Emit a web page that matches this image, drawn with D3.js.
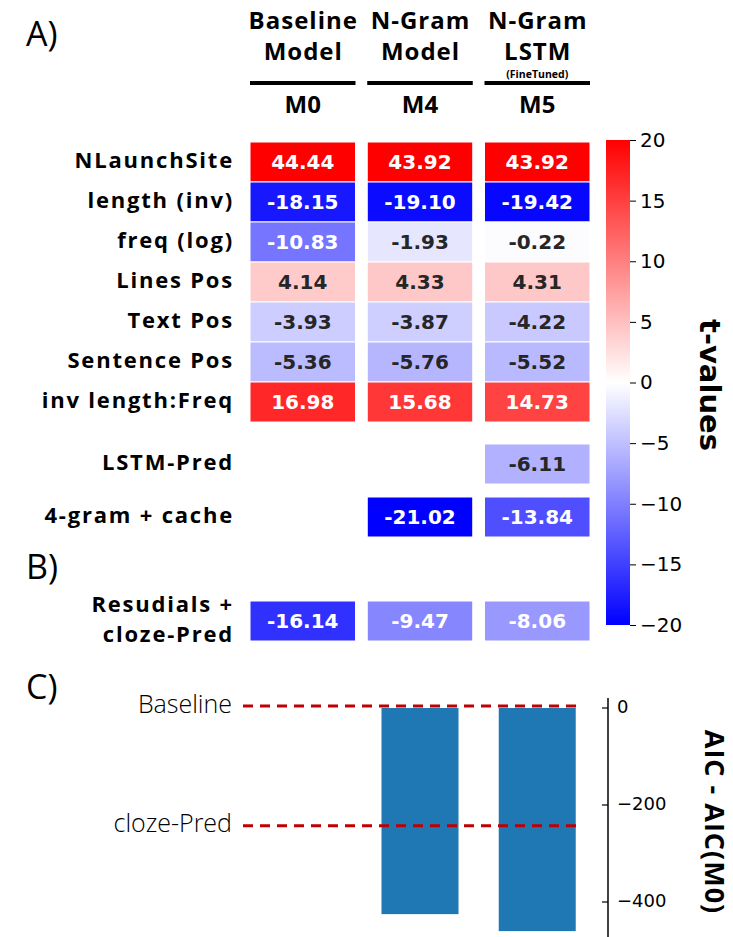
<!DOCTYPE html>
<html><head><meta charset="utf-8">
<script src="https://cdn.jsdelivr.net/npm/d3@7"></script>
<style>body{margin:0;background:#fff}</style>
</head><body>
<svg id="c" width="733" height="937"></svg>
<script>
// ---- data ----
const models = ["M0", "M4", "M5"];
const headerLine1 = ["Baseline", "N-Gram", "N-Gram"];
const headerLine2 = ["Model", "Model", "LSTM"];
const headerSub = ["", "", "(FineTuned)"];
const rowLabels = ["NLaunchSite", "length (inv)", "freq (log)", "Lines Pos", "Text Pos", "Sentence Pos", "inv length:Freq", "LSTM-Pred", "4-gram + cache", "Resudials +|cloze-Pred"];
const valsM0 = [44.44, -18.15, -10.83, 4.14, -3.93, -5.36, 16.98, null, null, -16.14];
const valsM4 = [43.92, -19.10, -1.93, 4.33, -3.87, -5.76, 15.68, null, -21.02, -9.47];
const valsM5 = [43.92, -19.42, -0.22, 4.31, -4.22, -5.52, 14.73, -6.11, -13.84, -8.06];
const colorbarTicks = [20, 15, 10, 5, 0, -5, -10, -15, -20];
const aicDelta = [0, -425, -460];
const refLabels = ["Baseline", "cloze-Pred"];
const refValues = [0, -247];
const aicTicks = [0, -200, -400];

// ---- layout ----
const svg = d3.select("#c");
const LBL = "'Open Sans', Lato, sans-serif";
const NUM = "'DejaVu Sans', sans-serif";
const x = d3.scaleBand().domain(models).range([250, 590]).paddingInner(0.1).paddingOuter(0);
const rowH = 40, top0 = 142;
const gapBefore = {7: 22, 8: 13, 9: 64};
const rowTop = [];
{ let y = top0; rowLabels.forEach((_, i) => { if (gapBefore[i]) y += gapBefore[i]; rowTop.push(y); y += rowH; }); }
const color = d3.scaleLinear().domain([-20, 0, 20]).range(["#0000ff", "#ffffff", "#ff0000"]).clamp(true);
const series = [valsM0, valsM4, valsM5];

// panel letters
[["A)", 37], ["B)", 570], ["C)", 690]].forEach(([t, y]) => {
  svg.append("text").attr("x", 26).attr("y", y).attr("dominant-baseline", "middle")
    .style("font-family", LBL).style("font-size", "34px").style("font-weight", 400).text(t);
});

// headers
models.forEach((m, j) => {
  const cx = x(m) + x.bandwidth() / 2;
  svg.append("text").attr("x", cx + 0.5).attr("y", 23).attr("text-anchor", "middle").attr("dominant-baseline", "middle")
    .style("font-family", LBL).style("font-weight", 700).style("font-size", "24px").style("letter-spacing", "1px").text(headerLine1[j]);
  svg.append("text").attr("x", cx + 0.5).attr("y", 54).attr("text-anchor", "middle").attr("dominant-baseline", "middle")
    .style("font-family", LBL).style("font-weight", 700).style("font-size", "24px").style("letter-spacing", "1px").text(headerLine2[j]);
  if (headerSub[j]) svg.append("text").attr("x", cx).attr("y", 75).attr("text-anchor", "middle").attr("dominant-baseline", "middle")
    .style("font-family", LBL).style("font-weight", 700).style("font-size", "10.5px").text(headerSub[j]);
  svg.append("rect").attr("x", x(m)).attr("y", 81).attr("width", x.bandwidth()).attr("height", 4).attr("fill", "#000");
  svg.append("text").attr("x", cx).attr("y", 107).attr("text-anchor", "middle").attr("dominant-baseline", "middle")
    .style("font-family", LBL).style("font-weight", 700).style("font-size", "24px").text(m);
});

// row labels
rowLabels.forEach((lab, i) => {
  const parts = lab.split("|");
  const cy = rowTop[i] + rowH / 2;
  parts.forEach((p, k) => {
    svg.append("text").attr("x", 234).attr("y", cy + (k - (parts.length - 1) / 2) * 30)
      .attr("text-anchor", "end").attr("dominant-baseline", "middle")
      .style("font-family", LBL).style("font-weight", 700).style("font-size", "22px").style("letter-spacing", "1.8px").text(p);
  });
});

// cells
series.forEach((vals, j) => {
  vals.forEach((v, i) => {
    if (v === null) return;
    const g = svg.append("g");
    g.append("rect").attr("x", x(models[j])).attr("y", rowTop[i]).attr("width", x.bandwidth()).attr("height", rowH)
      .attr("fill", color(v)).attr("stroke", "#fff").attr("stroke-width", 1);
    g.append("text").attr("x", x(models[j]) + x.bandwidth() / 2).attr("y", rowTop[i] + rowH / 2 + 1)
      .attr("text-anchor", "middle").attr("dominant-baseline", "middle")
      .style("font-family", NUM).style("font-weight", 700).style("font-size", "20px")
      .attr("fill", Math.abs(v) > 7 ? "#fff" : "#262626").text(v.toFixed(2));
  });
});

// colorbar
const cbY = d3.scaleLinear().domain([-20, 20]).range([625, 140]);
const defs = svg.append("defs");
const grad = defs.append("linearGradient").attr("id", "bwr").attr("x1", 0).attr("y1", 1).attr("x2", 0).attr("y2", 0);
[-20, 0, 20].forEach(v => grad.append("stop").attr("offset", (v + 20) / 40).attr("stop-color", color(v)));
svg.append("rect").attr("x", 606).attr("y", cbY(20)).attr("width", 24).attr("height", cbY(-20) - cbY(20)).attr("fill", "url(#bwr)");
const cbAxis = d3.axisRight(cbY).tickValues(colorbarTicks).tickSize(6).tickPadding(4).tickFormat(d3.format("d"));
const cbg = svg.append("g").attr("transform", "translate(630,0)").call(cbAxis);
cbg.select(".domain").remove();
cbg.selectAll("text").style("font-family", NUM).style("font-size", "20px").attr("fill", "#000");
cbg.selectAll("line").attr("stroke", "#000");
svg.append("text").attr("transform", "translate(708,385) rotate(90)").attr("text-anchor", "middle").attr("dominant-baseline", "middle")
  .style("font-family", NUM).style("font-weight", 700).style("font-size", "29px").text("t-values");

// panel C
const yA = d3.scaleLinear().domain([0, -400]).range([708, 902]);
const bx = d3.scaleBand().domain(models).range([250, 590]).paddingInner(0.1).paddingOuter(0);
const barW = 77;
svg.selectAll(".bar").data(aicDelta).enter().append("rect").attr("class", "bar")
  .attr("x", (d, i) => bx(models[i]) + bx.bandwidth() / 2 - barW / 2)
  .attr("y", d => yA(0)).attr("width", barW).attr("height", d => yA(d) - yA(0))
  .attr("fill", "#1f77b4");
refValues.forEach((v, k) => {
  svg.append("line").attr("x1", 243).attr("x2", 577).attr("y1", yA(v) - 2).attr("y2", yA(v) - 2)
    .attr("stroke", "#c00000").attr("stroke-width", 3).attr("stroke-dasharray", "10,7");
  svg.append("text").attr("x", 232).attr("y", yA(v) - 2).attr("text-anchor", "end").attr("dominant-baseline", "middle")
    .style("font-family", LBL).style("font-weight", 300).style("font-size", "25px").text(refLabels[k]);
});
const axG = svg.append("g").attr("transform", "translate(608,0)");
axG.append("line").attr("x1", 0).attr("x2", 0).attr("y1", 698).attr("y2", 937).attr("stroke", "#000").attr("stroke-width", 1.5);
aicTicks.forEach(t => {
  axG.append("line").attr("x1", -6).attr("x2", 0).attr("y1", yA(t)).attr("y2", yA(t)).attr("stroke", "#000").attr("stroke-width", 1.2);
  axG.append("text").attr("x", 9).attr("y", yA(t)).attr("dominant-baseline", "middle")
    .style("font-family", NUM).style("font-size", "18px").text(t === 0 ? "0" : "\u2212" + Math.abs(t));
});
svg.append("text").attr("transform", "translate(712,822) rotate(90)").attr("text-anchor", "middle").attr("dominant-baseline", "middle")
  .style("font-family", LBL).style("font-weight", 700).style("font-size", "27px").style("letter-spacing", "1px").text("AIC - AIC(M0)");
</script>
</body></html>
